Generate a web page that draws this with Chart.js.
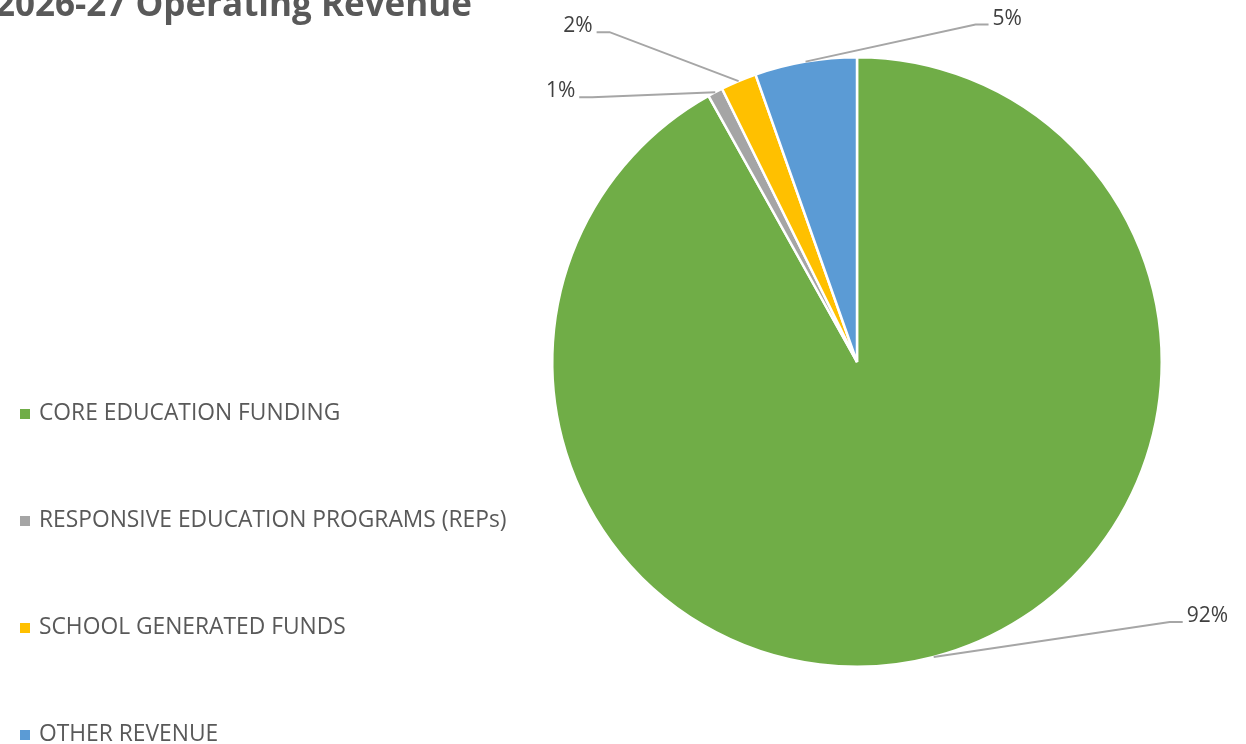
<!DOCTYPE html>
<html>
<head>
<meta charset="utf-8">
<script src="https://cdn.jsdelivr.net/npm/chart.js@4.4.1/dist/chart.umd.min.js"></script>
<style>
  html, body { margin: 0; padding: 0; background: #fff; }
  #wrap { position: relative; width: 1246px; height: 744px; overflow: hidden; }
</style>
</head>
<body>
<div id="wrap"><canvas id="revenueChart"></canvas></div>
<script>
const chartTitle = '2026-27 Operating Revenue';
const categories = ['CORE EDUCATION FUNDING', 'RESPONSIVE EDUCATION PROGRAMS (REPs)', 'SCHOOL GENERATED FUNDS', 'OTHER REVENUE'];
const shares = [91.9, 0.8, 1.9, 5.4];
const sliceColors = ['#70AD47', '#A5A5A5', '#FFC000', '#5B9BD5'];

// percent labels outside the pie, with leader lines
const leaderLabels = {
    id: 'leaderLabels',
    afterDatasetsDraw(chart, args, opts) {
        const ctx = chart.ctx;
        const meta = chart.getDatasetMeta(0);
        const values = chart.data.datasets[0].data;
        const total = values.reduce((a, b) => a + b, 0);
        ctx.save();
        meta.data.forEach((arc, i) => {
            const mid = (arc.startAngle + arc.endAngle) / 2;
            const ax = arc.x + Math.cos(mid) * arc.outerRadius;
            const ay = arc.y + Math.sin(mid) * arc.outerRadius;
            const [dx, dy, side] = opts.elbows[i];
            const ex = ax + dx, ey = ay + dy;
            const hx = side === 'right' ? ex + 13 : ex - 13;
            ctx.strokeStyle = '#A6A6A6';
            ctx.lineWidth = 2;
            ctx.beginPath();
            ctx.moveTo(ax, ay);
            ctx.lineTo(ex, ey);
            ctx.lineTo(hx, ey);
            ctx.stroke();
            ctx.fillStyle = '#404040';
            ctx.font = opts.font;
            ctx.textBaseline = 'middle';
            ctx.textAlign = side === 'right' ? 'left' : 'right';
            ctx.fillText(Math.round(values[i] / total * 100) + '%', side === 'right' ? hx + 4 : hx - 4, ey - 6);
        });
        ctx.restore();
    }
};

// legend column on the left plus the title
const sideLegend = {
    id: 'sideLegend',
    afterDraw(chart, args, opts) {
        const ctx = chart.ctx;
        const colors = chart.data.datasets[0].backgroundColor;
        ctx.save();
        ctx.font = opts.font;
        ctx.textBaseline = 'middle';
        ctx.textAlign = 'left';
        chart.data.labels.forEach((label, i) => {
            const y = opts.top + i * opts.spacing;
            ctx.fillStyle = colors[i];
            ctx.fillRect(opts.left, y - 5, 10, 10);
            ctx.fillStyle = '#595959';
            ctx.fillText(label, opts.left + 19, y);
        });
        ctx.font = opts.titleFont;
        ctx.textBaseline = 'alphabetic';
        ctx.fillText(chartTitle, opts.titleX, opts.titleY);
        ctx.restore();
    }
};

const ctx = document.getElementById('revenueChart').getContext('2d');
new Chart(ctx, {
    type: 'pie',
    data: {
        labels: categories,
        datasets: [{
            data: shares,
            backgroundColor: sliceColors,
            borderColor: '#ffffff',
            borderWidth: 2.5
        }]
    },
    options: {
        responsive: true,
        maintainAspectRatio: false,
        animation: false,
        events: [],
        layout: {
            padding: { left: 551, right: 83, top: 56, bottom: 76 }
        },
        plugins: {
            legend: { display: false },
            tooltip: { enabled: false },
            leaderLabels: {
                font: '21px "Open Sans"',
                elbows: [[236, -35, 'right'], [-123, 5, 'left'], [-129, -49, 'left'], [170, -37, 'right']]
            },
            sideLegend: {
                font: '22.8px "Open Sans"',
                left: 20,
                top: 414,
                spacing: 107,
                titleFont: 'bold 35px "Open Sans"',
                titleX: -5,
                titleY: 16
            }
        }
    },
    plugins: [leaderLabels, sideLegend]
});
</script>
</body>
</html>
